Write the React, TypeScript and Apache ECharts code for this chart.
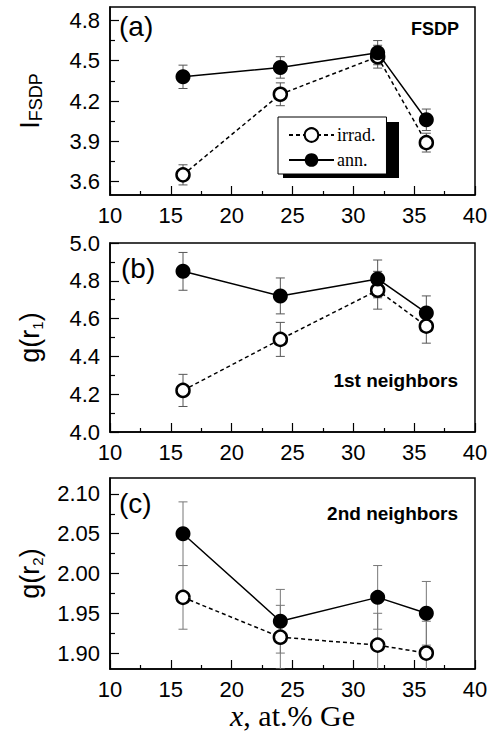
import React, { useEffect, useRef } from "react";
import * as echarts from "echarts";

const xValues = [16, 24, 32, 36];

const aIrrad = [3.65, 4.25, 4.53, 3.89];
const aIrradErr = [0.075, 0.085, 0.085, 0.07];
const aAnn = [4.38, 4.45, 4.56, 4.06];
const aAnnErr = [0.087, 0.08, 0.09, 0.08];

const bIrrad = [4.22, 4.49, 4.75, 4.56];
const bIrradErr = [0.085, 0.09, 0.1, 0.09];
const bAnn = [4.85, 4.72, 4.81, 4.63];
const bAnnErr = [0.1, 0.095, 0.1, 0.09];

const cIrrad = [1.97, 1.92, 1.91, 1.9];
const cIrradErr = [0.04, 0.04, 0.04, 0.04];
const cAnn = [2.05, 1.94, 1.97, 1.95];
const cAnnErr = [0.04, 0.04, 0.04, 0.04];

const aLabels = [3.6, 3.9, 4.2, 4.5, 4.8];
const aMinor = [3.75, 4.05, 4.35, 4.65];
const bLabels = [4.0, 4.2, 4.4, 4.6, 4.8, 5.0];
const bMinor = [4.1, 4.3, 4.5, 4.7, 4.9];
const cLabels = [1.9, 1.95, 2.0, 2.05, 2.1];
const cMinor = [1.925, 1.975, 2.025, 2.075];

const SANS = "'Liberation Sans', Arial, sans-serif";
const SERIF = "'Liberation Serif', 'Times New Roman', serif";

const grids = [
  { left: 110, right: 15, top: 7, height: 188 },
  { left: 110, right: 15, top: 243, height: 189 },
  { left: 110, right: 15, top: 478, height: 191 },
];

function pairs(ys: number[]) {
  return xValues.map((x, i) => [x, ys[i]]);
}
function errData(ys: number[], es: number[]) {
  return xValues.map((x, i) => [x, ys[i], es[i]]);
}

function xAxis(gi: number, withName: boolean) {
  return {
    type: "value",
    gridIndex: gi,
    min: 10,
    max: 40,
    interval: 5,
    axisLine: { show: true, lineStyle: { color: "#000", width: 1.5 } },
    axisTick: { show: true, inside: true, length: 9, lineStyle: { color: "#000", width: 1.2 } },
    minorTick: { show: true, splitNumber: 2, length: 4, lineStyle: { color: "#000", width: 1.2 } },
    axisLabel: {
      color: "#000",
      fontFamily: SANS,
      fontSize: 22,
      margin: 9,
      showMinLabel: true,
      showMaxLabel: true,
    },
    splitLine: { show: false },
    minorSplitLine: { show: false },
    name: withName ? "{i|x}{n|, at.% Ge}" : "",
    nameLocation: "middle",
    nameGap: 31,
    nameTextStyle: {
      rich: {
        i: { fontFamily: SERIF, fontSize: 30, fontStyle: "italic", color: "#000", lineHeight: 30 },
        n: { fontFamily: SERIF, fontSize: 30, color: "#000", lineHeight: 30 },
      },
    },
  };
}

function yAxes(
  gi: number,
  min: number,
  max: number,
  labels: number[],
  minors: number[],
  dec: number,
  name: string,
  subLH: number,
  subSize: number
) {
  return [
    {
      type: "value",
      gridIndex: gi,
      position: "left",
      min,
      max,
      axisLine: { show: true, lineStyle: { color: "#000", width: 1.5 } },
      axisTick: { show: true, inside: true, length: 9, customValues: labels, lineStyle: { color: "#000", width: 1.2 } },
      axisLabel: {
        customValues: labels,
        formatter: (v: number) => v.toFixed(dec),
        color: "#000",
        fontFamily: SANS,
        fontSize: 22,
        margin: 10,
      },
      splitLine: { show: false },
      name,
      nameLocation: "middle",
      nameGap: 65,
      nameTextStyle: {
        rich: {
          m: { fontFamily: SANS, fontSize: 27, color: "#000", lineHeight: 30 },
          s: { fontFamily: SANS, fontSize: subSize, color: "#000", lineHeight: subLH, verticalAlign: "bottom" },
        },
      },
    },
    {
      type: "value",
      gridIndex: gi,
      position: "left",
      min,
      max,
      axisLine: { show: false },
      axisTick: { show: true, inside: true, length: 5, customValues: minors, lineStyle: { color: "#000", width: 1.2 } },
      axisLabel: { show: false },
      splitLine: { show: false },
    },
  ];
}

function errSeries(gi: number, data: number[][], color: string) {
  return {
    type: "custom",
    name: "err" + gi + color,
    xAxisIndex: gi,
    yAxisIndex: gi * 2,
    data,
    clip: true,
    z: 1,
    encode: { x: 0, y: 1 },
    renderItem: (params: any, api: any) => {
      const x = api.value(0);
      const y = api.value(1);
      const e = api.value(2);
      const t = api.coord([x, y + e]);
      const b = api.coord([x, y - e]);
      const hw = 4.5;
      const st = { stroke: color, lineWidth: 1 };
      return {
        type: "group",
        children: [
          { type: "line", shape: { x1: t[0], y1: t[1], x2: b[0], y2: b[1] }, style: st },
          { type: "line", shape: { x1: t[0] - hw, y1: t[1], x2: t[0] + hw, y2: t[1] }, style: st },
          { type: "line", shape: { x1: b[0] - hw, y1: b[1], x2: b[0] + hw, y2: b[1] }, style: st },
        ],
      };
    },
  };
}

function irradSeries(gi: number, ys: number[]) {
  return {
    type: "line",
    name: "irrad.",
    xAxisIndex: gi,
    yAxisIndex: gi * 2,
    data: pairs(ys),
    symbol: "circle",
    symbolSize: 13,
    z: 3,
    lineStyle: { color: "#000", width: 1.5, type: [4, 3] },
    itemStyle: { color: "#fff", borderColor: "#000", borderWidth: 2.5 },
  };
}

function annSeries(gi: number, ys: number[]) {
  return {
    type: "line",
    name: "ann.",
    xAxisIndex: gi,
    yAxisIndex: gi * 2,
    data: pairs(ys),
    symbol: "circle",
    symbolSize: 15,
    z: 4,
    lineStyle: { color: "#000", width: 1.5, type: "solid" },
    itemStyle: { color: "#000", borderColor: "#000", borderWidth: 0 },
  };
}

export default function App() {
  const ref = useRef<HTMLDivElement>(null);
  useEffect(() => {
    if (!ref.current) return;
    const chart = echarts.init(ref.current, null, { renderer: "svg" });
    const option: any = {
      animation: false,
      backgroundColor: "#fff",
      grid: grids.map((g) => ({
        ...g,
        show: true,
        borderColor: "#000",
        borderWidth: 1.5,
        backgroundColor: "transparent",
        outerBoundsMode: "none",
        containLabel: false,
      })),
      xAxis: [xAxis(0, false), xAxis(1, false), xAxis(2, true)],
      yAxis: [
        ...yAxes(0, 3.5, 4.9, aLabels, aMinor, 1, "{m|I}{s|FSDP}", 2, 18),
        ...yAxes(1, 4.0, 5.0, bLabels, bMinor, 1, "{m|g(r}{s|1}{m|)}", 10, 15),
        ...yAxes(2, 1.88, 2.12, cLabels, cMinor, 2, "{m|g(r}{s|2}{m|)}", 10, 15),
      ],
      legend: {
        data: ["irrad.", "ann."],
        orient: "vertical",
        left: 278,
        top: 117,
        itemWidth: 45,
        itemHeight: 17,
        itemGap: 7,
        padding: [9, 11, 5, 10],
        backgroundColor: "#fff",
        borderColor: "#000",
        borderWidth: 1,
        borderRadius: 0,
        selectedMode: false,
        z: 10,
        textStyle: { fontFamily: SERIF, fontSize: 18, color: "#000", padding: [0, 0, 0, -2] },
      },
      graphic: [
        { type: "rect", left: 283, top: 122, shape: { width: 116, height: 56 }, style: { fill: "#000" }, z: 9 },
        { type: "text", left: 119, top: 12, style: { text: "(a)", font: "28px " + SANS, fill: "#000" } },
        { type: "text", left: 121, top: 254, style: { text: "(b)", font: "28px " + SANS, fill: "#000" } },
        { type: "text", left: 119, top: 489, style: { text: "(c)", font: "28px " + SANS, fill: "#000" } },
        { type: "text", right: 31, top: 20, style: { text: "FSDP", font: "bold 18px " + SANS, fill: "#000" } },
        { type: "text", right: 32, top: 371, style: { text: "1st neighbors", font: "bold 19px " + SANS, fill: "#000" } },
        { type: "text", right: 32, top: 504, style: { text: "2nd neighbors", font: "bold 19px " + SANS, fill: "#000" } },
      ],
      series: [
        errSeries(0, errData(aIrrad, aIrradErr), "#555"),
        errSeries(0, errData(aAnn, aAnnErr), "#555"),
        irradSeries(0, aIrrad),
        annSeries(0, aAnn),
        errSeries(1, errData(bIrrad, bIrradErr), "#555"),
        errSeries(1, errData(bAnn, bAnnErr), "#555"),
        irradSeries(1, bIrrad),
        annSeries(1, bAnn),
        errSeries(2, errData(cIrrad, cIrradErr), "#777"),
        errSeries(2, errData(cAnn, cAnnErr), "#777"),
        irradSeries(2, cIrrad),
        annSeries(2, cAnn),
      ],
    };
    chart.setOption(option);
    return () => chart.dispose();
  }, []);
  return (
    <div
      ref={ref}
      style={{ position: "fixed", left: 0, top: 0, width: 490, height: 737, background: "#fff" }}
    />
  );
}
